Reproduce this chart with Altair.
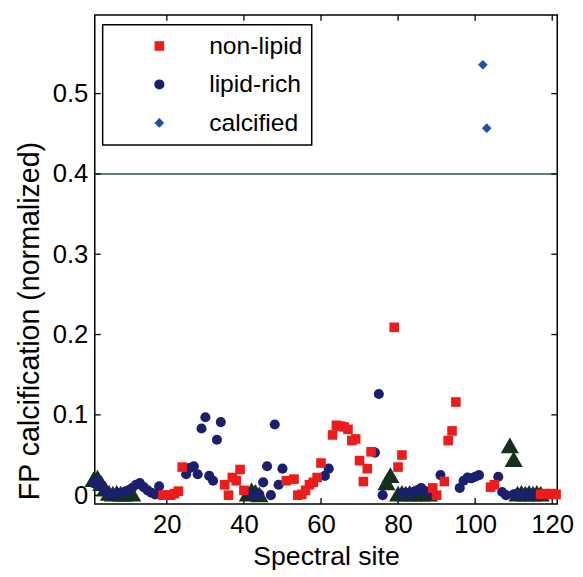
import altair as alt
import pandas as pd

# ---- data ----
nonlipid_x = [19, 20, 21, 22, 23, 24, 35, 36, 37, 38, 39, 40, 51, 53, 54, 55, 56, 57, 58, 59, 60,
              63, 64, 65, 66, 67, 68, 69, 70, 71, 72, 73, 79, 80, 81, 89, 90, 92, 93, 94, 95,
              104, 105, 117, 118, 119, 120, 121]
nonlipid_y = [0.0, 0.0, 0.0, 0.002, 0.005, 0.035, 0.013, 0.0, 0.022, 0.018, 0.032, 0.006, 0.018, 0.02,
              0.0, 0.001, 0.006, 0.013, 0.016, 0.022, 0.04,
              0.075, 0.087, 0.086, 0.085, 0.082, 0.068, 0.07, 0.043, 0.017, 0.033, 0.054, 0.209, 0.035, 0.05,
              0.009, 0.0, 0.017, 0.068, 0.08, 0.116, 0.01, 0.013, 0.001, 0.002, 0.001, 0.002, 0.001]

lipid_x = [1, 2, 3, 4, 5, 6, 7, 8, 9, 10, 11, 12, 13, 14, 15, 16, 17, 18,
           25, 26, 27, 28, 29, 30, 31, 32, 33, 34, 42, 43, 44, 45, 46, 47, 48, 49, 50,
           61, 62, 74, 75, 76, 81, 82, 83, 84, 85, 86, 87, 88, 91, 96, 97, 98, 99, 100, 101,
           106, 107, 108, 110, 111, 112, 113, 114, 115, 116]
lipid_y = [0.015, 0.018, 0.012, 0.005, 0.002, 0.001, 0.002, 0.003, 0.004, 0.006, 0.009, 0.013, 0.015,
           0.01, 0.006, 0.003, 0.001, 0.011,
           0.026, 0.034, 0.036, 0.026, 0.083, 0.097, 0.024, 0.018, 0.069, 0.091, 0.0, 0.0, 0.001,
           0.016, 0.036, 0.0, 0.088, 0.013, 0.033,
           0.024, 0.033, 0.053, 0.126, 0.0, 0.002, 0.003, 0.002, 0.004, 0.006, 0.009, 0.005, 0.003,
           0.025, 0.009, 0.018, 0.022, 0.021, 0.023, 0.025,
           0.023, 0.004, 0.0, 0.001, 0.002, 0.001, 0.002, 0.001, 0.002, 0.001]

calcified_x = [102, 103]
calcified_y = [0.536, 0.457]

tri_x = [1, 2, 3, 4, 5, 6, 7, 8, 9, 10, 11, 41, 42, 43, 44, 77, 78,
         80, 81, 82, 83, 84, 85, 86, 87, 88, 109, 110, 111, 112, 113, 114, 115, 116, 117]
tri_y = [0.02, 0.022, 0.015, 0.008, 0.003, 0.002, 0.003, 0.002, 0.002, 0.003, 0.002,
         0.002, 0.006, 0.004, 0.001, 0.016, 0.025,
         0.002, 0.003, 0.002, 0.003, 0.002, 0.003, 0.002, 0.003, 0.002,
         0.062, 0.045, 0.002, 0.003, 0.002, 0.003, 0.002, 0.003, 0.002]

threshold = [0.4]
x_ticks = [20, 40, 60, 80, 100, 120]
y_ticks = [0, 0.1, 0.2, 0.3, 0.4, 0.5]

classes = ["non-lipid", "lipid-rich", "calcified", "other"]
colors = ["#ec1c1c", "#1b1f6e", "#1f4ea6", "#15301c"]
shapes = ["square", "circle", "diamond", "triangle-up"]
sizes = [95, 105, 95, 340]

# ---- build table (draw order: triangles, circles, squares, diamonds) ----
rows = []
rows += [{"site": x, "fp": y, "cls": "other"} for x, y in zip(tri_x, tri_y)]
rows += [{"site": x, "fp": y, "cls": "lipid-rich"} for x, y in zip(lipid_x, lipid_y)]
rows += [{"site": x, "fp": y, "cls": "non-lipid"} for x, y in zip(nonlipid_x, nonlipid_y)]
rows += [{"site": x, "fp": y, "cls": "calcified"} for x, y in zip(calcified_x, calcified_y)]
df = pd.DataFrame(rows)

W, H = 469, 496
FONT = "Liberation Sans"
xscale = alt.Scale(domain=[1.3, 121.3], nice=False, zero=False)
yscale = alt.Scale(domain=[-0.011, 0.598], nice=False, zero=False)

legend = alt.Legend(orient="none", legendX=8, legendY=10, title=None,
                    values=["non-lipid", "lipid-rich", "calcified"],
                    strokeColor="black", fillColor="white", padding=9,
                    labelFontSize=25, labelFont=FONT, labelColor="black",
                    symbolSize=70, symbolOffset=36, labelOffset=38,
                    rowPadding=13, symbolStrokeWidth=0)

points = alt.Chart(df).mark_point(filled=True, opacity=1, strokeWidth=0).encode(
    x=alt.X("site:Q", scale=xscale, title="Spectral site",
            axis=alt.Axis(values=x_ticks, ticks=False, domain=False, grid=False,
                          labelFontSize=26, titleFontSize=27, labelFont=FONT, titleFont=FONT,
                          titleFontWeight="normal", labelColor="black", titleColor="black",
                          labelPadding=8, titlePadding=6)),
    y=alt.Y("fp:Q", scale=yscale, title="FP calcification (normalized)",
            axis=alt.Axis(values=y_ticks, ticks=False, domain=False, grid=False,
                          labelExpr="datum.value == 0 ? '0' : format(datum.value, '.1f')",
                          labelFontSize=26, titleFontSize=29, labelFont=FONT, titleFont=FONT,
                          titleFontWeight="normal", labelColor="black", titleColor="black",
                          labelPadding=7, titlePadding=8, titleY=310)),
    color=alt.Color("cls:N", scale=alt.Scale(domain=classes, range=colors), legend=legend),
    shape=alt.Shape("cls:N", scale=alt.Scale(domain=classes, range=shapes), legend=legend),
    size=alt.Size("cls:N", scale=alt.Scale(type="ordinal", domain=classes, range=sizes), legend=None),
)

thr = alt.Chart(pd.DataFrame({"t": threshold})).mark_rule(color="#21594b", strokeWidth=1.6).encode(
    y=alt.Y("t:Q", scale=yscale)
)

xt = pd.DataFrame({"v": x_ticks})
yt = pd.DataFrame({"v": y_ticks})
tick_style = dict(color="black", strokeWidth=1.3)
xb = alt.Chart(xt).mark_rule(**tick_style).encode(x=alt.X("v:Q", scale=xscale), y=alt.value(H), y2=alt.value(H - 6))
xtp = alt.Chart(xt).mark_rule(**tick_style).encode(x=alt.X("v:Q", scale=xscale), y=alt.value(0), y2=alt.value(6))
yl = alt.Chart(yt).mark_rule(**tick_style).encode(y=alt.Y("v:Q", scale=yscale), x=alt.value(0), x2=alt.value(6))
yr = alt.Chart(yt).mark_rule(**tick_style).encode(y=alt.Y("v:Q", scale=yscale), x=alt.value(W), x2=alt.value(W - 6))

chart = alt.layer(thr, xb, xtp, yl, yr, points).properties(
    width=W, height=H,
    autosize=alt.AutoSizeParams(type="none"),
    padding={"left": 88, "top": 3, "right": 18, "bottom": 69},
    background="white",
).configure_view(stroke="black", strokeWidth=1.5).configure_legend(
    strokeWidth=1.5
)

chart.save("out.html", embed_options={"renderer": "svg", "actions": False})
